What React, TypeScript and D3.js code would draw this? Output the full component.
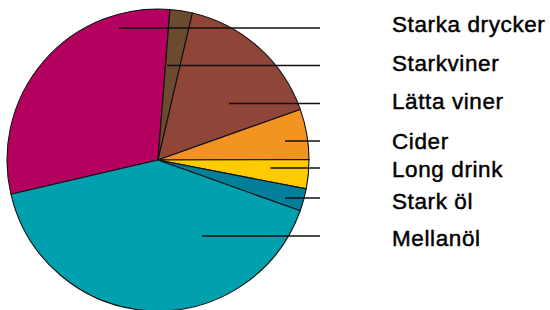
import * as d3 from 'd3';

const categories = ['Starka drycker', 'Starkviner', 'Lätta viner', 'Cider', 'Long drink', 'Stark öl', 'Mellanöl'];
const shares = [29.9, 2.4, 15.9, 5.4, 3.1, 2.4, 40.9];
const colors = ['#B4005E', '#6C4A2F', '#8F4538', '#F39322', '#FFCA00', '#007F9B', '#01A0AE'];

// leader anchors (offset from pie centre) and label baselines
const leaders = [
  { dx: -39, dy: -132, ly: 32 },
  { dx: 9, dy: -94.5, ly: 71 },
  { dx: 71, dy: -56.5, ly: 109 },
  { dx: 127, dy: -19, ly: 148.5 },
  { dx: 112.5, dy: 8, ly: 176.5 },
  { dx: 127, dy: 38, ly: 209 },
  { dx: 44, dy: 76, ly: 246 },
];

export default function App(): React.ReactNode {
  const width = 550;
  const height = 310;
  const cx = 158;
  const cy = 160;
  const r = 151;
  const lineEnd = 320;
  const labelX = 392;

  const start = (-103.1 * Math.PI) / 180;
  const pie = d3
    .pie<number>()
    .sort(null)
    .value((d) => d)
    .startAngle(start)
    .endAngle(start + 2 * Math.PI);
  const arcs = pie(shares);
  const arc = d3.arc<d3.PieArcDatum<number>>().innerRadius(0).outerRadius(r);

  return (
    <svg
      width={width}
      height={height}
      style={{ position: 'absolute', left: 0, top: 0, background: '#fff' }}
    >
      <g transform={`translate(${cx},${cy})`}>
        {arcs.map((a, i) => (
          <path
            key={categories[i]}
            d={arc(a) ?? ''}
            fill={colors[i]}
            stroke="#111"
            strokeWidth={1.1}
            strokeLinejoin="round"
          />
        ))}
      </g>
      {leaders.map((l, i) => (
        <line
          key={categories[i]}
          x1={cx + l.dx}
          x2={lineEnd}
          y1={cy + l.dy}
          y2={cy + l.dy}
          stroke="#111"
          strokeWidth={1.5}
        />
      ))}
      {categories.map((c, i) => (
        <text
          key={c}
          x={labelX}
          y={leaders[i].ly}
          fontFamily="'Liberation Sans', Arial, sans-serif"
          fontSize={22.5}
          letterSpacing={0.6}
          fill="#000"
          stroke="#000"
          strokeWidth={0.45}
        >
          {c}
        </text>
      ))}
    </svg>
  );
}
